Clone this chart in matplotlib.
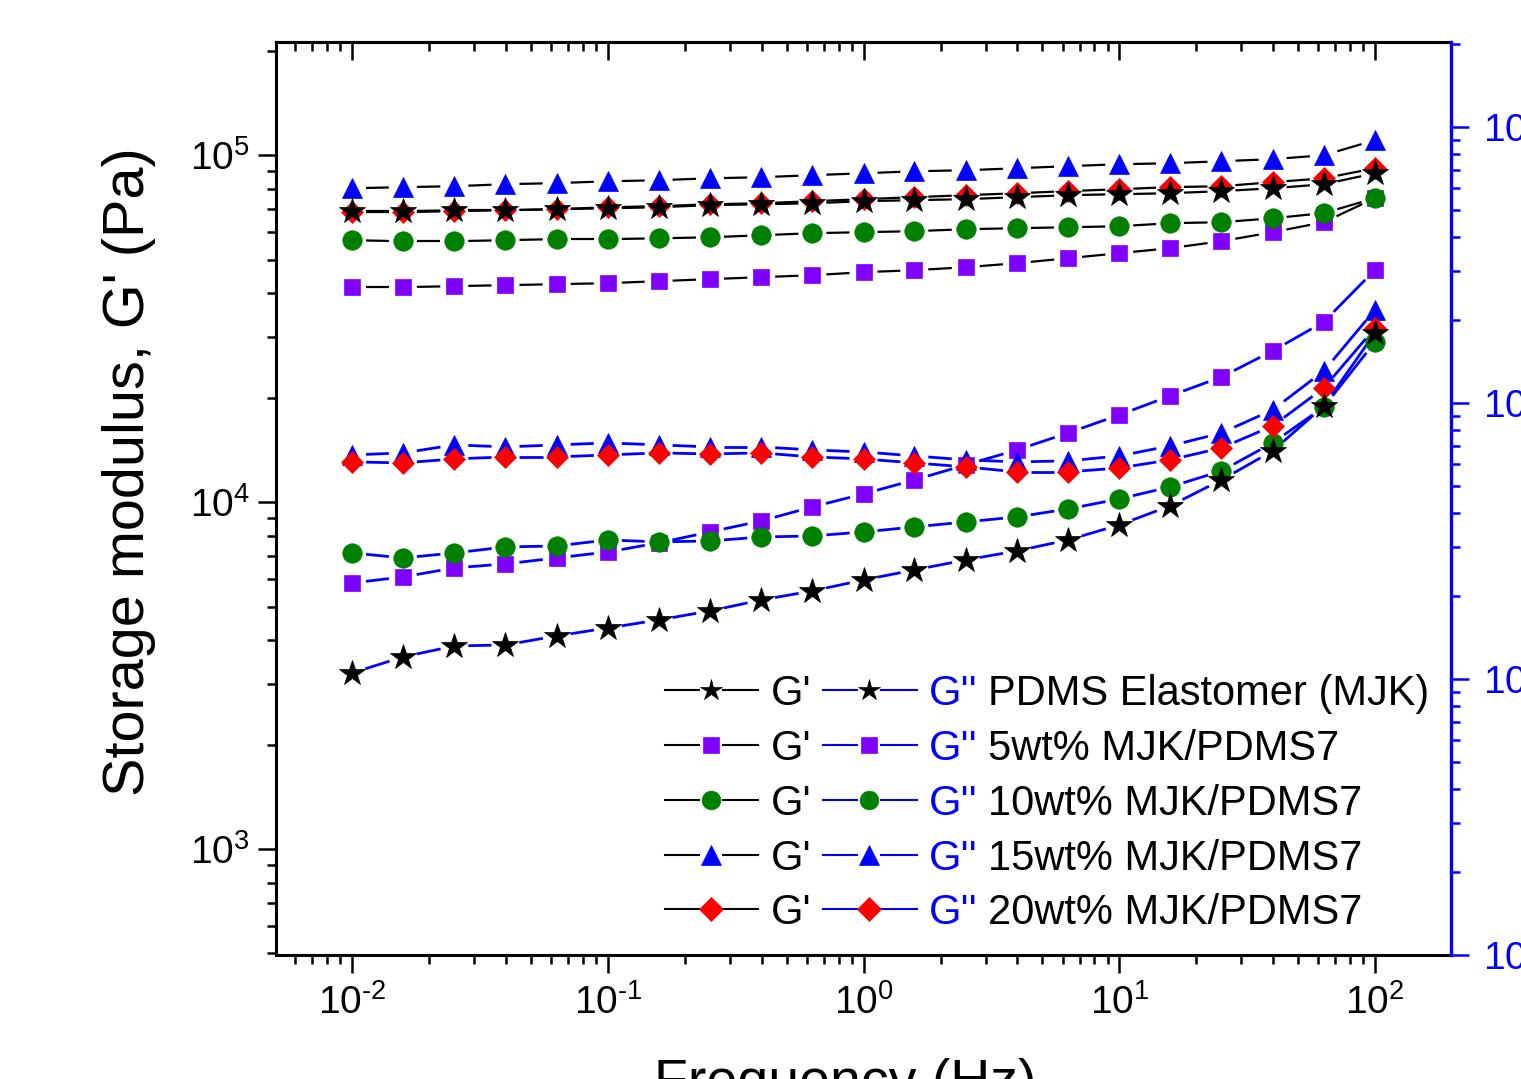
import numpy as np
import matplotlib
matplotlib.use('Agg')
import matplotlib.pyplot as plt
from matplotlib.ticker import LogLocator, FuncFormatter, NullFormatter

plt.rcParams['font.family'] = ['Liberation Sans', 'DejaVu Sans']
plt.rcParams['mathtext.fontset'] = 'custom'
plt.rcParams['mathtext.rm'] = 'Liberation Sans'
plt.rcParams['mathtext.it'] = 'Liberation Sans:italic'
plt.rcParams['mathtext.bf'] = 'Liberation Sans:bold'
plt.rcParams['mathtext.default'] = 'regular'
plt.rcParams['axes.unicode_minus'] = False

# ---------------- data ----------------
freq = [0.01, 0.0158, 0.0251, 0.0398, 0.0631, 0.1, 0.158, 0.251, 0.398, 0.631,
        1.0, 1.58, 2.51, 3.98, 6.31, 10.0, 15.8, 25.1, 39.8, 63.1, 100.0]

# storage modulus G' (Pa) - left axis
gp_pdms = [69000, 69000, 69400, 69400, 69900, 70300, 70800, 71800, 72200, 72700, 73700,
           74200, 74700, 75700, 76700, 77200, 77700, 78800, 80300, 82500, 88700]
gp_5 = [41650, 41650, 41930, 42210, 42490, 42770, 43350, 43930, 44510, 45100, 46000,
        46620, 47550, 48840, 50480, 52190, 53950, 56510, 60000, 64100, 75200]
gp_10 = [56900, 56500, 56500, 56900, 57300, 57300, 57600, 58000, 58800, 59600, 60000,
         60400, 61200, 61600, 62000, 62400, 63700, 64100, 65800, 68100, 75200]
gp_15 = [80300, 80900, 81400, 82500, 83100, 84100, 84700, 85800, 86400, 87600, 88700,
         89900, 90500, 91700, 93000, 94200, 94800, 96100, 97400, 100000, 110500]
gp_20 = [68500, 68500, 69000, 69400, 69900, 70800, 71300, 72200, 72700, 73700, 74700,
         75700, 76700, 77700, 78800, 79800, 80900, 81400, 83600, 85800, 91700]

# loss modulus G'' (Pa) - right axis
gpp_pdms = [1051, 1202, 1317, 1328, 1432, 1530, 1636, 1764, 1933, 2084, 2284,
            2483, 2699, 2910, 3189, 3614, 4236, 5260, 6700, 9750, 17930]
gpp_5 = [2227, 2342, 2525, 2611, 2745, 2885, 3111, 3409, 3737, 4201, 4681,
         5260, 5962, 6755, 7784, 9048, 10600, 12420, 15430, 19660, 30340]
gpp_10 = [2861, 2745, 2861, 3008, 3033, 3189, 3137, 3162, 3268, 3296, 3409,
          3554, 3706, 3864, 4130, 4490, 4962, 5670, 7165, 9672, 16634]
gpp_15 = [6480, 6590, 7045, 6929, 7045, 7165, 7045, 6929, 6929, 6755, 6644,
          6427, 6217, 6114, 6166, 6427, 6986, 7784, 9433, 13060, 21730]
gpp_20 = [6114, 6063, 6268, 6373, 6373, 6480, 6590, 6535, 6590, 6373, 6268,
          6063, 5864, 5623, 5623, 5814, 6217, 6871, 8253, 11330, 18690]

labels = ["PDMS Elastomer (MJK)", "5wt% MJK/PDMS7", "10wt% MJK/PDMS7",
          "15wt% MJK/PDMS7", "20wt% MJK/PDMS7"]
gp_all = [gp_pdms, gp_5, gp_10, gp_15, gp_20]
gpp_all = [gpp_pdms, gpp_5, gpp_10, gpp_15, gpp_20]

markers = ['*', 's', 'o', '^', 'D']
mcolors = ['black', '#7F00FF', '#008000', '#0000FF', '#FF0000']
msizes = [19, 12, 14, 15, 11.5]
leg_sizes = [16, 12, 13.5, 15, 12]
zorders = [7, 3, 5, 4, 6]

# ---------------- figure ----------------
W, H = 1521, 1079
fig = plt.figure(figsize=(W / 100, H / 100), dpi=100)
ax = fig.add_axes([276 / W, 1 - 955 / H, (1451 - 276) / W, (955 - 42) / H])
ax2 = ax.twinx()

ax.set_xscale('log')
ax.set_yscale('log')
ax2.set_yscale('log')
ax.set_xlim(0.00504, 198.3)
ax.set_ylim(495, 2.12e5)
ax2.set_ylim(100, 2.03e5)


def gapped(axis, xs, ys, color, lw, gap, z):
    pts = axis.transData.transform(np.column_stack([xs, ys]))
    inv = axis.transData.inverted()
    for p, q in zip(pts[:-1], pts[1:]):
        d = q - p
        L = np.hypot(d[0], d[1])
        if L <= 2 * gap:
            continue
        u = d / L
        seg = inv.transform(np.array([p + u * gap, q - u * gap]))
        axis.plot(seg[:, 0], seg[:, 1], color=color, lw=lw,
                  solid_capstyle='butt', zorder=z)


for i in range(5):
    gapped(ax, freq, gp_all[i], 'black', 1.6, 14, 2)
    ax.plot(freq, gp_all[i], linestyle='none', marker=markers[i], ms=msizes[i],
            mfc=mcolors[i], mec=mcolors[i], mew=0.5, zorder=zorders[i])
for i in range(5):
    gapped(ax2, freq, gpp_all[i], '#0000FF', 2.0, 14, 2)
    ax2.plot(freq, gpp_all[i], linestyle='none', marker=markers[i], ms=msizes[i],
             mfc=mcolors[i], mec=mcolors[i], mew=0.5, zorder=zorders[i])


def pow10(v, pos=None):
    e = int(round(np.log10(v)))
    if e < 0:
        return r'$10^{\text{-}%d}$' % (-e)
    return r'$10^{%d}$' % e


fmt = FuncFormatter(pow10)

# ---------------- ticks & spines ----------------
for sp in ['left', 'bottom', 'top']:
    ax.spines[sp].set_linewidth(2.2)
ax.spines['right'].set_visible(False)
for sp in ['left', 'bottom', 'top']:
    ax2.spines[sp].set_visible(False)
ax2.spines['right'].set_linewidth(2.4)
ax2.spines['right'].set_color('#0000FF')

for a in (ax.xaxis, ax.yaxis, ax2.yaxis):
    a.set_major_locator(LogLocator(base=10, numticks=20))
    a.set_minor_locator(LogLocator(base=10, subs=np.arange(2, 10), numticks=20))
    a.set_minor_formatter(NullFormatter())
    a.set_major_formatter(fmt)

ax.tick_params(axis='x', which='major', direction='out', length=13, width=1.8,
               labelsize=28, pad=8, top=False, bottom=True)
ax.tick_params(axis='x', which='minor', direction='out', length=6.5, width=1.8,
               top=False, bottom=True)
ax.tick_params(axis='y', which='major', direction='out', length=13, width=1.8,
               labelsize=28, pad=6, right=False)
ax.tick_params(axis='y', which='minor', direction='out', length=6.5, width=1.8,
               right=False)
ax2.tick_params(axis='y', which='major', direction='out', length=13, width=1.8,
                labelsize=28, pad=10, colors='#0000FF')
ax2.tick_params(axis='y', which='minor', direction='out', length=6.5, width=1.8,
                colors='#0000FF')

# top ticks point inward: secondary x axis
axt = ax.secondary_xaxis('top')
axt.xaxis.set_major_locator(LogLocator(base=10, numticks=20))
axt.xaxis.set_minor_locator(LogLocator(base=10, subs=np.arange(2, 10), numticks=20))
axt.xaxis.set_minor_formatter(NullFormatter())
axt.tick_params(axis='x', which='major', direction='in', length=13, width=1.8,
                labeltop=False)
axt.tick_params(axis='x', which='minor', direction='in', length=6.5, width=1.8)
axt.spines['top'].set_linewidth(2.2)

# ---------------- axis labels ----------------
fig.text(129 / W, 1 - 472 / H, "Storage modulus, G' (Pa)", rotation=90,
         ha='center', va='center', fontsize=41.5)
fig.text(845 / W, 1 - 1058 / H, "Frequency (Hz)", ha='center', va='top', fontsize=40)

# ---------------- legend (manual) ----------------
row_y = [690, 745, 800, 855, 909]


def fx(px):
    return px / W


def fy(py):
    return 1 - py / H


for i in range(5):
    y = row_y[i]
    for (x0, x1, xm, col) in [(665, 758, 711, 'black'), (823, 917, 869, '#0000FF')]:
        fig.add_artist(plt.Line2D([fx(x0), fx(xm - 12)], [fy(y), fy(y)], color=col, lw=1.5,
                                  transform=fig.transFigure))
        fig.add_artist(plt.Line2D([fx(xm + 12), fx(x1)], [fy(y), fy(y)], color=col, lw=1.5,
                                  transform=fig.transFigure))
        fig.add_artist(plt.Line2D([fx(xm)], [fy(y)], marker=markers[i],
                                  ms=leg_sizes[i], mfc=mcolors[i], mec=mcolors[i],
                                  mew=0.5, linestyle='none', transform=fig.transFigure))
    fig.text(fx(771), fy(y + 15), "G'", color='black', fontsize=30, va='baseline')
    fig.text(fx(929), fy(y + 15), "G''", color='#0000FF', fontsize=30, va='baseline')
    fig.text(fx(988), fy(y + 15), labels[i], color='black', fontsize=30, va='baseline')

fig.savefig('out.png', dpi=100)
